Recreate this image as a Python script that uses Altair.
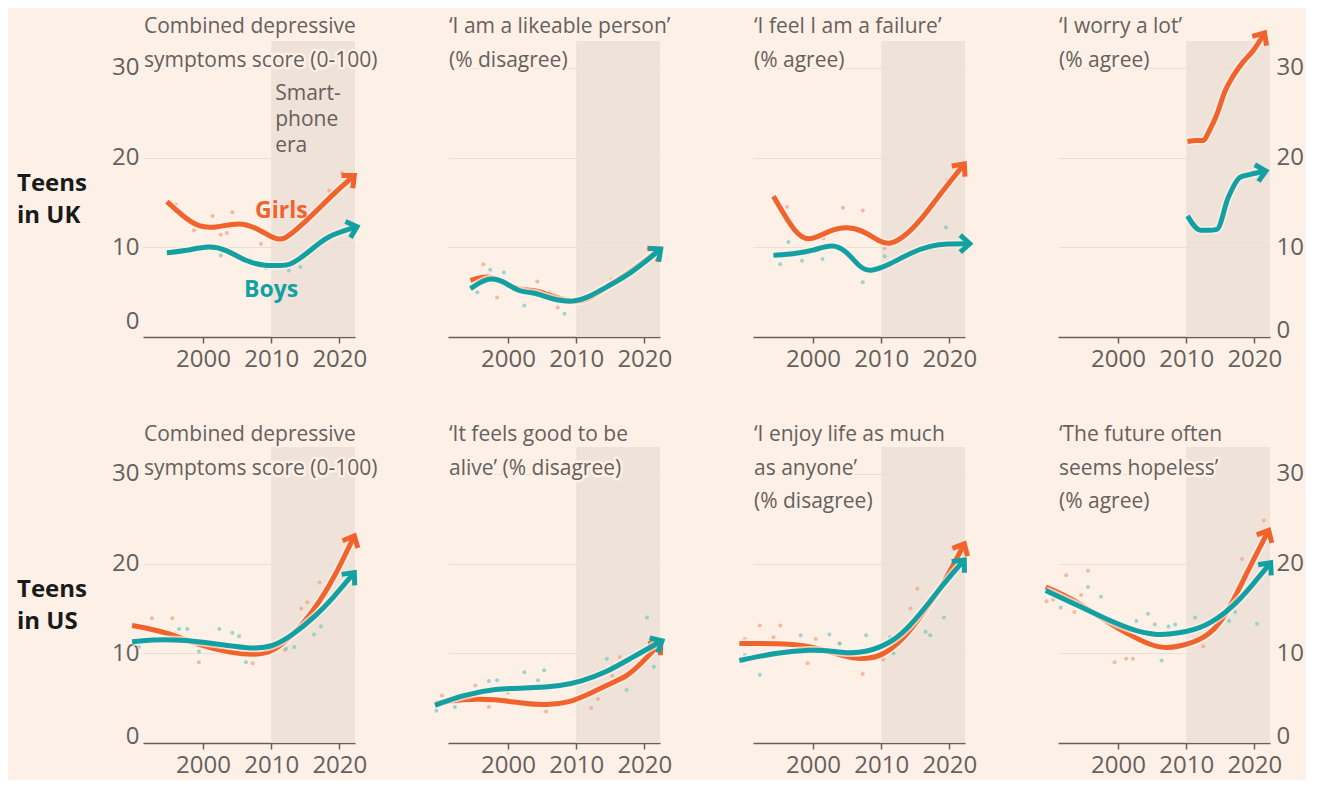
import math
import altair as alt
import pandas as pd

FONT = "Open Sans"
BG = "#fdf1e7"
SHADE = "#ecdfd5"
ORANGE = "#f1632d"
TEAL = "#12a0a3"
ORANGE_DOT = "#f3a483"
TEAL_DOT = "#7cc9c3"
GREY = "#66605c"
GRID = "#eadfd5"
CHEVRON = "M -0.95 -0.85 L 0 0 L -0.95 0.85"

X0, X1 = 1991.2, 2022.3
Y0, Y1 = 0, 33
W, H = 212, 296

# ---------------- data ----------------
smartphone_era = [2010, 2022.3]
x_ticks = [2000, 2010, 2020]
y_ticks = [0, 10, 20, 30]

panel_titles = [
    "Combined depressive\nsymptoms score (0-100)",
    "\u2018I am a likeable person\u2019\n(% disagree)",
    "\u2018I feel I am a failure\u2019\n(% agree)",
    "\u2018I worry a lot\u2019\n(% agree)",
    "Combined depressive\nsymptoms score (0-100)",
    "\u2018It feels good to be\nalive\u2019 (% disagree)",
    "\u2018I enjoy life as much\nas anyone\u2019\n(% disagree)",
    "\u2018The future often\nseems hopeless\u2019\n(% agree)",
]
row_labels = ["Teens\nin UK", "Teens\nin US"]

# UK: combined depressive symptoms score
uk_combined_girls = [(1994.7, 15.1), (1997, 13.5), (1999.4, 12.2), (2002, 12.2), (2005.3, 12.8),
                     (2007.8, 12.2), (2010.7, 10.8), (2012, 10.9), (2014.1, 12.2), (2017.1, 14.4),
                     (2019.5, 16.2), (2022.2, 18.0)]
uk_combined_boys = [(1994.7, 9.4), (1997.5, 9.6), (2000.9, 10.2), (2003.3, 9.8), (2006.3, 8.4),
                    (2009.2, 7.9), (2011.2, 8.0), (2012.6, 7.9), (2015.1, 9.2), (2018, 11.1),
                    (2020.5, 11.8), (2022.6, 12.3)]
uk_combined_girls_dots = [(1996, 14.8), (1998.7, 11.9), (2001.4, 13.5), (2002.6, 11.4), (2003.5, 11.6),
                          (2004.3, 13.9), (2008.5, 10.4), (2018.5, 16.3), (2020.4, 18.3)]
uk_combined_boys_dots = [(1999, 10.0), (2002.6, 9.1), (2007, 8.6), (2009.2, 7.7), (2012.6, 7.4), (2014.3, 7.8)]

# UK: 'I am a likeable person' (% disagree)
uk_likeable_girls = [(1994.5, 6.3), (1997, 6.9), (1999, 6.2), (2001.5, 5.2), (2004, 5.3), (2007, 4.4),
                     (2009.5, 3.9), (2011.5, 4.0), (2014.5, 5.6), (2018, 7.3), (2022.3, 9.8)]
uk_likeable_boys = [(1994.5, 5.4), (1997.2, 6.7), (1999.2, 6.3), (2001.6, 5.0), (2003.6, 5.0), (2005.1, 4.6),
                    (2007.1, 4.1), (2009.5, 3.9), (2011.5, 4.3), (2014.5, 5.6), (2017.9, 7.0), (2022.4, 9.8)]
uk_likeable_girls_dots = [(1996.4, 8.1), (1998.4, 4.4), (2004.3, 6.2), (2007.3, 3.3), (2015.2, 6.4)]
uk_likeable_boys_dots = [(1995.5, 5.0), (1997.4, 7.5), (1999.4, 7.2), (2002.4, 3.5), (2006.1, 5.0), (2008.3, 2.6)]

# UK: 'I feel I am a failure' (% agree)
uk_failure_girls = [(1994.2, 15.7), (1997.4, 11.5), (1999.4, 10.6), (2002.4, 11.9), (2004.9, 12.3),
                    (2007.3, 11.9), (2009.8, 10.6), (2011.3, 10.3), (2013.3, 11.1), (2015.8, 13.0),
                    (2018.3, 15.6), (2022.2, 19.3)]
uk_failure_boys = [(1994.2, 9.1), (1997.4, 9.3), (1999.9, 9.6), (2002.9, 10.4), (2004.9, 9.6), (2006.8, 7.8),
                   (2008.3, 7.2), (2011.3, 8.1), (2014.3, 9.4), (2017.3, 10.2), (2019.7, 10.4), (2023, 10.4)]
uk_failure_girls_dots = [(1996.2, 14.5), (2001.5, 11.0), (2004.4, 14.4), (2007.3, 14.1), (2010.5, 9.9),
                         (2015.3, 13.0), (2019.7, 17.5)]
uk_failure_boys_dots = [(1995.2, 8.1), (1996.4, 10.6), (1998.4, 8.5), (2001.4, 8.7), (2007.3, 6.1),
                        (2010.5, 9.0), (2017.3, 9.8), (2019.5, 12.2)]

# UK: 'I worry a lot' (% agree)
uk_worry_girls = [(2010.2, 21.8), (2011.5, 21.9), (2012.4, 21.9), (2013.6, 23.3), (2014.5, 24.8),
                  (2015.7, 27.4), (2016.9, 29.1), (2018.4, 30.7), (2019.8, 31.9), (2021.5, 33.9)]
uk_worry_boys = [(2010.2, 13.5), (2012.1, 11.9), (2013.3, 11.9), (2014.5, 12.0), (2016.2, 15.6),
                 (2017.9, 17.8), (2019.3, 18.1), (2021.7, 18.5)]
uk_worry_girls_dots = []
uk_worry_boys_dots = []

# US: combined depressive symptoms score
us_combined_girls = [(1989.6, 13.1), (1994.5, 12.4), (1999.4, 10.9), (2004.3, 10.0), (2008.2, 9.8),
                     (2010.7, 10.3), (2014.1, 12.7), (2017.1, 15.7), (2019.5, 18.8), (2022.2, 23.1)]
us_combined_boys = [(1989.6, 11.3), (1994.5, 11.6), (1999.4, 11.3), (2003.3, 10.9), (2007.3, 10.5),
                    (2010.2, 10.7), (2013.1, 12.0), (2016.6, 14.2), (2019, 16.1), (2022.2, 19.0)]
us_combined_girls_dots = [(1992.5, 13.9), (1995.5, 13.9), (1995.9, 12.2), (1999.4, 9.0), (2002.8, 10.0),
                          (2007.3, 8.9), (2012, 10.4), (2014.4, 15.0), (2015.3, 15.7), (2017.1, 17.9)]
us_combined_boys_dots = [(1990.6, 10.7), (1996.5, 12.7), (1997.7, 12.7), (1999.4, 10.2), (2002.4, 12.7),
                         (2004.3, 12.3), (2005.3, 11.9), (2006.3, 9.0), (2012.2, 10.5), (2013.4, 10.7),
                         (2016.3, 12.1), (2017.3, 13.0)]

# US: 'It feels good to be alive' (% disagree)
us_alive_girls = [(1989.3, 4.4), (1993.2, 4.9), (1998.2, 4.9), (2002.1, 4.4), (2005.6, 4.2), (2009, 4.5),
                  (2012, 5.5), (2015.5, 6.8), (2017.4, 7.4), (2019.5, 8.8), (2022.4, 11.2)]
us_alive_boys = [(1989.3, 4.2), (1993.2, 5.3), (1998.2, 6.1), (2003.1, 6.1), (2008, 6.4), (2010.5, 6.8),
                 (2014.5, 7.9), (2017.9, 9.4), (2022.6, 11.4)]
us_alive_girls_dots = [(1990.3, 5.3), (1995.2, 6.4), (1997.2, 4.0), (2000, 5.6), (2005.6, 3.5), (2012.2, 3.9),
                       (2013.2, 4.9), (2015.3, 7.5), (2016.4, 9.6)]
us_alive_boys_dots = [(1989.5, 3.6), (1992.2, 4.0), (1997.2, 6.9), (1998.4, 7.0), (2002.4, 7.9), (2004.4, 7.0),
                      (2005.3, 8.1), (2014.5, 9.4), (2015.3, 8.6), (2017.4, 5.9), (2018.4, 9.6),
                      (2020.4, 14.0), (2021.4, 8.5)]

# US: 'I enjoy life as much as anyone' (% disagree)
us_enjoy_girls = [(1989.2, 11.1), (1994.9, 11.1), (1998.9, 10.9), (2002.4, 10.2), (2005.8, 9.4), (2008.3, 9.4),
                  (2010.3, 9.8), (2013.3, 11.6), (2016.3, 14.6), (2019.2, 17.8), (2022.2, 22.2)]
us_enjoy_boys = [(1989.2, 9.2), (1994.9, 10.1), (1999.9, 10.4), (2002.4, 10.3), (2004.9, 10.0), (2007.8, 10.1),
                 (2011.3, 11.1), (2013.8, 12.7), (2016.3, 14.9), (2019.2, 17.8), (2022.2, 20.4)]
us_enjoy_girls_dots = [(1990, 11.6), (1992.2, 13.1), (1994.2, 11.8), (1995.2, 13.1), (1999.2, 8.9),
                       (2000.4, 11.6), (2003.9, 11.1), (2007.3, 7.7), (2010.3, 9.3), (2014.3, 15.0),
                       (2015.3, 17.2)]
us_enjoy_boys_dots = [(1990, 9.8), (1992.2, 7.6), (1998.2, 12.0), (2002.4, 12.1), (2003.9, 11.1), (2007.8, 12.0),
                      (2011.3, 11.8), (2011.8, 10.0), (2016.5, 12.4), (2017.2, 12.0), (2019.2, 14.0)]

# US: 'The future often seems hopeless' (% agree)
us_hopeless_girls = [(1989.4, 17.4), (1993.1, 16.2), (1998, 13.7), (2002, 11.9), (2005.9, 10.5),
                     (2008.8, 10.7), (2012.8, 11.6), (2015.7, 13.9), (2018.7, 18.7), (2022.1, 23.7)]
us_hopeless_boys = [(1989.4, 17.0), (1993.1, 15.7), (1998, 13.9), (2002, 12.6), (2005.4, 12.0), (2008.8, 12.2),
                    (2012.8, 12.9), (2016.7, 15.0), (2019.7, 17.6), (2022.4, 20.1)]
us_hopeless_girls_dots = [(1989.5, 15.8), (1990.5, 16.0), (1992.4, 18.7), (1993.6, 14.6), (1994.6, 16.5),
                          (1995.6, 19.2), (1999.5, 9.0), (2001.2, 9.4), (2002.2, 9.4), (2012.5, 10.8),
                          (2016.2, 15.5), (2018.2, 20.5), (2021.4, 24.8)]
us_hopeless_boys_dots = [(1991.6, 15.1), (1995.6, 17.4), (1997.5, 16.3), (2002.7, 13.6), (2004.4, 14.4),
                         (2005.4, 13.2), (2006.4, 9.2), (2007.4, 13.0), (2008.4, 13.2), (2011.3, 14.0),
                         (2016.3, 13.6), (2017.2, 14.6), (2020.4, 13.3)]

# annotations (data coordinates: year, value)
girls_label = [(2011.5, 14.0)]
boys_label = [(2010.0, 5.2)]
era_label = [(2010.6, 28.3)]

# ---------------- chart building ----------------
XAXIS = alt.Axis(values=x_ticks, format="d", labelFontSize=24, labelColor=GREY, labelFont=FONT,
                 tickColor=GREY, domainColor=GREY, domainWidth=1.5, tickWidth=1.5, tickSize=6,
                 grid=False, labelPadding=4, title=None, labelFlush=False)


def zero_offset(v):
    return {"condition": {"test": "datum.value === 0", "value": v}, "value": 0}


def yaxis(kind, zoff=0):
    common = dict(values=y_ticks, grid=True, gridColor=GRID, gridWidth=1.2, domain=False, ticks=False,
                  title=None)
    if kind == "left":
        return alt.Axis(orient="left", labelFontSize=24, labelColor=GREY, labelFont=FONT,
                        labelPadding=4, labelOffset=zero_offset(zoff), **common)
    if kind == "right":
        return alt.Axis(orient="right", labelFontSize=24, labelColor=GREY, labelFont=FONT,
                        labelPadding=6, labelOffset=zero_offset(zoff), **common)
    return alt.Axis(labels=False, **common)


def xenc(field="year"):
    return alt.X(f"{field}:Q", scale=alt.Scale(domain=[X0, X1], nice=False, zero=False), axis=XAXIS,
                 title=None)


def yenc(axis, field="value"):
    return alt.Y(f"{field}:Q", scale=alt.Scale(domain=[Y0, Y1], nice=False), axis=axis, title=None)


def df_of(points):
    return pd.DataFrame(points, columns=["year", "value"])


def arrow_df(points):
    (xa, ya), (xb, yb) = points[-2], points[-1]
    dx = (xb - xa) * W / (X1 - X0)
    dy = (yb - ya) * H / (Y1 - Y0)
    ang = math.degrees(math.atan2(-dy, dx)) % 360
    return pd.DataFrame({"year": [xb], "value": [yb], "ang": [ang]})


def panel(idx, girls, boys, gdots, bdots, ykind, zoff=0, interp="basis", row_label=None, annotate=False):
    ya = yaxis(ykind, zoff)
    shade = alt.Chart(pd.DataFrame({"x": [smartphone_era[0]], "x2": [smartphone_era[1]],
                                    "y": [Y0], "y2": [Y1]})).mark_rect(
        color=SHADE, opacity=0.85).encode(x=xenc("x"), x2="x2:Q", y=yenc(ya, "y"), y2="y2:Q")
    layers = [shade]
    if gdots:
        layers.append(alt.Chart(df_of(gdots)).mark_circle(size=16, color=ORANGE_DOT, opacity=0.75).encode(
            x=xenc(), y=yenc(ya)))
    if bdots:
        layers.append(alt.Chart(df_of(bdots)).mark_circle(size=16, color=TEAL_DOT, opacity=0.75).encode(
            x=xenc(), y=yenc(ya)))
    for pts, col in ((girls, ORANGE), (boys, TEAL)):
        layers.append(alt.Chart(df_of(pts)).mark_line(color=BG, strokeWidth=8.5, opacity=0.7,
                                                      interpolate=interp, strokeCap="butt").encode(
            x=xenc(), y=yenc(ya)))
        layers.append(alt.Chart(df_of(pts)).mark_line(color=col, strokeWidth=5, interpolate=interp,
                                                      strokeCap="butt").encode(x=xenc(), y=yenc(ya)))
        layers.append(alt.Chart(arrow_df(pts)).mark_point(
            shape=CHEVRON, size=400, filled=False, color=col, strokeWidth=5, opacity=1,
            strokeJoin="miter", strokeCap="butt").encode(
            x=xenc(), y=yenc(ya), angle=alt.Angle("ang:Q", scale=None)))
    tdf = pd.DataFrame({"t": [panel_titles[idx]]})
    ty = -25 if idx < 4 else -23
    layers.append(alt.Chart(tdf).mark_text(
        align="left", baseline="top", fontSize=21, lineHeight=33.5, font=FONT, lineBreak="\n",
        color=BG, stroke=BG, strokeWidth=5, strokeJoin="round").encode(
        x=alt.value(1), y=alt.value(ty), text="t:N"))
    layers.append(alt.Chart(tdf).mark_text(
        align="left", baseline="top", fontSize=21, lineHeight=33.5, font=FONT, lineBreak="\n",
        color=GREY).encode(x=alt.value(1), y=alt.value(ty), text="t:N"))
    if row_label is not None:
        layers.append(alt.Chart(pd.DataFrame({"t": [row_label]})).mark_text(
            align="left", baseline="top", fontSize=24, fontWeight="bold", lineHeight=32, font=FONT,
            lineBreak="\n", color="#1a1a1a").encode(x=alt.value(-126), y=alt.value(131), text="t:N"))
    if annotate:
        layers.append(alt.Chart(df_of(girls_label).assign(t="Girls")).mark_text(
            align="center", baseline="middle", fontSize=23, fontWeight="bold", font=FONT,
            color=ORANGE).encode(x=xenc(), y=yenc(ya), text="t:N"))
        layers.append(alt.Chart(df_of(boys_label).assign(t="Boys")).mark_text(
            align="center", baseline="middle", fontSize=23, fontWeight="bold", font=FONT,
            color=TEAL).encode(x=xenc(), y=yenc(ya), text="t:N"))
        layers.append(alt.Chart(df_of(era_label).assign(t="Smart-\nphone\nera")).mark_text(
            align="left", baseline="top", fontSize=21, lineHeight=26, font=FONT, lineBreak="\n",
            color=GREY).encode(x=xenc(), y=yenc(ya), text="t:N"))
    return alt.layer(*layers).properties(width=W, height=H)


panels = [
    panel(0, uk_combined_girls, uk_combined_boys, uk_combined_girls_dots, uk_combined_boys_dots, "left",
          zoff=-16, row_label=row_labels[0], annotate=True),
    panel(1, uk_likeable_girls, uk_likeable_boys, uk_likeable_girls_dots, uk_likeable_boys_dots, "none"),
    panel(2, uk_failure_girls, uk_failure_boys, uk_failure_girls_dots, uk_failure_boys_dots, "none"),
    panel(3, uk_worry_girls, uk_worry_boys, uk_worry_girls_dots, uk_worry_boys_dots, "right", zoff=-7,
          interp="monotone"),
    panel(4, us_combined_girls, us_combined_boys, us_combined_girls_dots, us_combined_boys_dots, "left",
          zoff=-7, row_label=row_labels[1]),
    panel(5, us_alive_girls, us_alive_boys, us_alive_girls_dots, us_alive_boys_dots, "none"),
    panel(6, us_enjoy_girls, us_enjoy_boys, us_enjoy_girls_dots, us_enjoy_boys_dots, "none"),
    panel(7, us_hopeless_girls, us_hopeless_boys, us_hopeless_girls_dots, us_hopeless_boys_dots, "right",
          zoff=-7),
]

chart = alt.concat(*panels, columns=4, spacing={"row": 110, "column": 93}, bounds="flush").properties(
    background=BG, padding={"left": 9, "top": 7, "right": 2, "bottom": 3}
).configure_view(stroke=None)

chart.save("out.html", embed_options={"renderer": "svg", "actions": False})
